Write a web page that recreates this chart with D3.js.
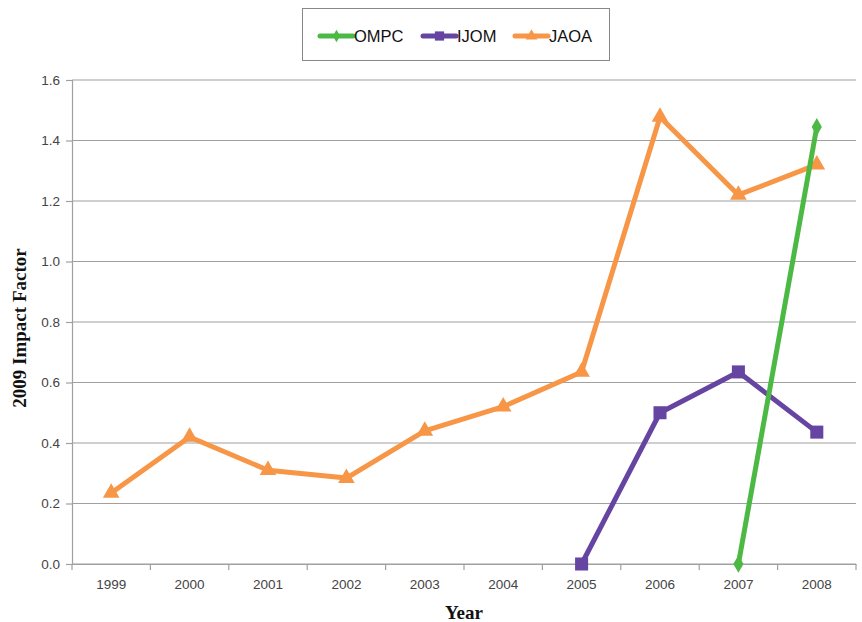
<!DOCTYPE html>
<html>
<head>
<meta charset="utf-8">
<script src="https://cdn.jsdelivr.net/npm/d3@7"></script>
<style>
  body { margin: 0; background: #fff; }
  svg text { font-family: "Liberation Sans", Arial, sans-serif; }
</style>
</head>
<body>
<script>
// datos
var years = ["1999", "2000", "2001", "2002", "2003", "2004", "2005", "2006", "2007", "2008"]
var jaoa = [0.235, 0.42, 0.31, 0.284, 0.44, 0.52, 0.635, 1.478, 1.22, 1.32]
var ijom = [null, null, null, null, null, null, 0, 0.50, 0.635, 0.436]
var ompc = [null, null, null, null, null, null, null, null, 0, 1.445]
var yTicks = [0, 0.2, 0.4, 0.6, 0.8, 1.0, 1.2, 1.4, 1.6]

var series = [
    {name: "OMPC", values: ompc, color: "#4cb944", symbol: d3.symbolDiamond, size: 90},
    {name: "IJOM", values: ijom, color: "#6644a2", symbol: d3.symbolSquare, size: 170},
    {name: "JAOA", values: jaoa, color: "#f79646", symbol: d3.symbolTriangle, size: 120}
]

var width = 862
var height = 622
var margin = {top: 80, bottom: 58, left: 72, right: 6}

var svg = d3.select("body")
    .append("svg")
    .attr("width", width)
    .attr("height", height)

var escalaX = d3.scaleBand()
    .domain(years)
    .range([margin.left, width - margin.right])

var escalaY = d3.scaleLinear()
    .domain([0, 1.6])
    .range([height - margin.bottom, margin.top])

// lineas de la rejilla
svg.append("g")
    .selectAll("line")
    .data(yTicks)
    .enter()
    .append("line")
    .attr("x1", margin.left)
    .attr("x2", width - margin.right)
    .attr("y1", d => escalaY(d))
    .attr("y2", d => escalaY(d))
    .attr("stroke", "#a0a0a0")
    .attr("stroke-width", 1.2)

// eje Y
var ejeY = d3.axisLeft(escalaY)
    .tickValues(yTicks)
    .tickFormat(d3.format(".1f"))
    .tickSize(6)
    .tickPadding(6)

var gY = svg.append("g")
    .attr("transform", "translate(" + margin.left + ",0)")
    .call(ejeY)
gY.select(".domain").attr("stroke", "#a0a0a0").attr("stroke-width", 1.2)
gY.selectAll(".tick line").attr("stroke", "#a0a0a0").attr("stroke-width", 1.2)
gY.selectAll("text").attr("font-size", 13.5).attr("fill", "#444")
    .style("font-family", "Liberation Sans, Arial, sans-serif")

// eje X
var ejeX = d3.axisBottom(escalaX)
    .tickSize(0)
    .tickPadding(15)

var gX = svg.append("g")
    .attr("transform", "translate(0," + escalaY(0) + ")")
    .call(ejeX)
gX.select(".domain").attr("stroke", "#a0a0a0").attr("stroke-width", 1.2)
gX.selectAll("text").attr("font-size", 13.5).attr("fill", "#444")
    .style("font-family", "Liberation Sans, Arial, sans-serif")

// marcas entre categorias
var bordes = years.map(d => escalaX(d)).concat([escalaX.range()[1]])
gX.selectAll(".sep")
    .data(bordes)
    .enter()
    .append("line")
    .attr("class", "sep")
    .attr("x1", d => d)
    .attr("x2", d => d)
    .attr("y1", 0)
    .attr("y2", 6)
    .attr("stroke", "#a0a0a0")
    .attr("stroke-width", 1.2)

// series
var linea = d3.line()
    .defined(d => d.v != null)
    .x(d => escalaX(d.year) + escalaX.bandwidth() / 2)
    .y(d => escalaY(d.v))

series.slice().reverse().forEach(function(s) {
    var puntos = years.map((y, i) => ({year: y, v: s.values[i]}))
    svg.append("path")
        .datum(puntos)
        .attr("d", linea)
        .attr("fill", "none")
        .attr("stroke", s.color)
        .attr("stroke-width", 5)
        .attr("stroke-linejoin", "round")

    svg.append("g")
        .selectAll("path")
        .data(puntos.filter(d => d.v != null))
        .enter()
        .append("path")
        .attr("d", d3.symbol().type(s.symbol).size(s.size))
        .attr("transform", d => "translate(" + (escalaX(d.year) + escalaX.bandwidth() / 2) + "," + escalaY(d.v) + ")")
        .attr("fill", s.color)
})

// leyenda
var leyenda = svg.append("g")
leyenda.append("rect")
    .attr("x", 302.5)
    .attr("y", 8.5)
    .attr("width", 307)
    .attr("height", 52)
    .attr("fill", "#fff")
    .attr("stroke", "#888")
    .attr("stroke-width", 1)

var posLeyenda = [320, 423, 515]
series.forEach(function(s, i) {
    var x0 = posLeyenda[i]
    leyenda.append("line")
        .attr("x1", x0)
        .attr("x2", x0 + 33)
        .attr("y1", 36)
        .attr("y2", 36)
        .attr("stroke", s.color)
        .attr("stroke-width", 5)
        .attr("stroke-linecap", "round")
    leyenda.append("path")
        .attr("d", d3.symbol().type(s.symbol).size(s.size * 0.5))
        .attr("transform", "translate(" + (x0 + 16.5) + ",36)")
        .attr("fill", s.color)
    leyenda.append("text")
        .attr("x", x0 + 34)
        .attr("y", 42)
        .attr("font-size", 16.5)
        .attr("fill", "#111")
        .text(s.name)
})

// titulos de los ejes
svg.append("text")
    .attr("transform", "translate(26,328) rotate(-90)")
    .attr("text-anchor", "middle")
    .style("font-family", "Liberation Serif, Times New Roman, serif")
    .attr("font-weight", "bold")
    .attr("font-size", 19)
    .attr("fill", "#111")
    .text("2009 Impact Factor")

svg.append("text")
    .attr("x", 464)
    .attr("y", 619)
    .attr("text-anchor", "middle")
    .style("font-family", "Liberation Serif, Times New Roman, serif")
    .attr("font-weight", "bold")
    .attr("font-size", 19)
    .attr("fill", "#111")
    .text("Year")
</script>
</body>
</html>
